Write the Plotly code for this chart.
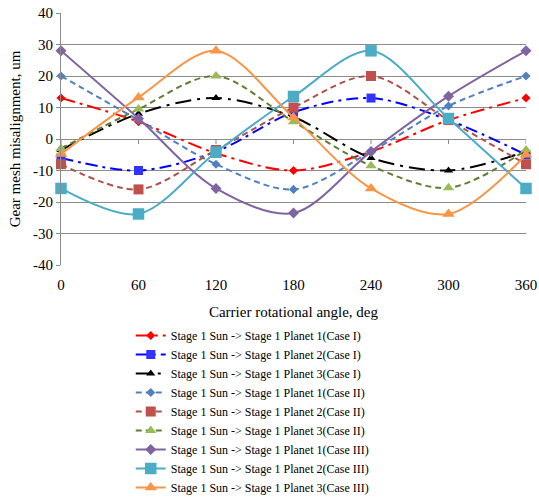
import plotly.graph_objects as go

angles = [0, 60, 120, 180, 240, 300, 360]
y_ticks = [-40, -30, -20, -10, 0, 10, 20, 30, 40]

names = [
    "Stage 1 Sun -> Stage 1 Planet 1(Case I)",
    "Stage 1 Sun -> Stage 1 Planet 2(Case I)",
    "Stage 1 Sun -> Stage 1 Planet 3(Case I)",
    "Stage 1 Sun -> Stage 1 Planet 1(Case II)",
    "Stage 1 Sun -> Stage 1 Planet 2(Case II)",
    "Stage 1 Sun -> Stage 1 Planet 3(Case II)",
    "Stage 1 Sun -> Stage 1 Planet 1(Case III)",
    "Stage 1 Sun -> Stage 1 Planet 2(Case III)",
    "Stage 1 Sun -> Stage 1 Planet 3(Case III)",
]

case1_p1 = [13, 5.5, -4.5, -10, -4, 6, 13]
case1_p2 = [-6, -10, -4, 8.5, 13, 6, -5]
case1_p3 = [-3.5, 8, 13, 7, -6, -10, -4]
case2_p1 = [20, 6, -8, -16, -4, 10.5, 20]
case2_p2 = [-8, -16, -3.5, 10, 20, 6, -8]
case2_p3 = [-3, 9.5, 20, 5.5, -8.5, -15.5, -3.5]
case3_p1 = [28, 6.5, -15.7, -23.5, -4, 13.6, 28]
case3_p2 = [-15.7, -23.8, -4.2, 13.5, 28, 6.5, -15.7]
case3_p3 = [-4.8, 13.2, 28, 6.8, -15.7, -23.8, -5]

series = [case1_p1, case1_p2, case1_p3, case2_p1, case2_p2, case2_p3,
          case3_p1, case3_p2, case3_p3]

line_colors = ["#FF0000", "#0000FF", "#000000", "#4F81BD", "#B0504D", "#5E7E33",
               "#8064A2", "#4BACC6", "#F79646"]
marker_colors = ["#FF0000", "#3333FF", "#000000", "#4F81BD", "#C0504D", "#9BBB59",
                 "#8064A2", "#4BACC6", "#F79646"]
dashes = ["14px,5px,3px,5px", "12px,5px,3px,5px", "16px,6px,3px,6px",
          "6px,4px", "6px,4px", "6px,4px", "solid", "solid", "solid"]
symbols = ["diamond", "square", "triangle-up", "diamond", "square", "triangle-up",
           "diamond", "square", "triangle-up"]
msizes = [7, 9, 8, 7, 10, 10, 8.5, 11.5, 11]

fig = go.Figure()
for nm, ys, lc, mc, ds, sy, ms in zip(names, series, line_colors, marker_colors,
                                      dashes, symbols, msizes):
    fig.add_trace(go.Scatter(
        x=angles, y=ys, name=nm, mode="lines+markers",
        line=dict(color=lc, width=2, dash=ds, shape="spline", smoothing=0.9),
        marker=dict(symbol=sy, size=ms, color=mc, line=dict(width=0)),
        cliponaxis=False,
    ))

# small category tick marks on the zero line
shapes = []
for a in angles:
    shapes.append(dict(type="line", xref="x", yref="y", x0=a, x1=a,
                       ysizemode="pixel", yanchor=0, y0=0, y1=-5,
                       line=dict(color="#888888", width=1), layer="below"))

fig.update_layout(
    width=539, height=499,
    margin=dict(l=61, r=13, t=13, b=234, autoexpand=False),
    paper_bgcolor="white", plot_bgcolor="white",
    font=dict(family="Liberation Serif", size=15, color="black"),
    shapes=shapes,
    showlegend=True,
    legend=dict(
        x=0.15, y=-0.222, xanchor="left", yanchor="top",
        font=dict(family="Liberation Serif", size=12, color="black"),
        bgcolor="rgba(0,0,0,0)", itemwidth=30,
    ),
    xaxis=dict(
        range=[0, 360], tickvals=angles, ticktext=[str(a) for a in angles],
        showgrid=False, zeroline=False, showline=False, ticks="",
        ticklabelstandoff=9,
        title=dict(text="Carrier rotational angle, deg", standoff=14,
                   font=dict(size=15)),
        tickfont=dict(size=15),
    ),
    yaxis=dict(
        range=[-40, 40], tickvals=y_ticks, ticktext=[str(v) for v in y_ticks],
        showgrid=True, gridcolor="#8C8C8C", gridwidth=1,
        zeroline=True, zerolinecolor="#8C8C8C", zerolinewidth=1,
        showline=True, linecolor="#8C8C8C", linewidth=1,
        ticks="outside", ticklen=4, tickcolor="#8C8C8C",
        title=dict(text="Gear mesh misalignment, um", standoff=8,
                   font=dict(size=15)),
        tickfont=dict(size=15),
    ),
)

fig.write_html("out.html")
